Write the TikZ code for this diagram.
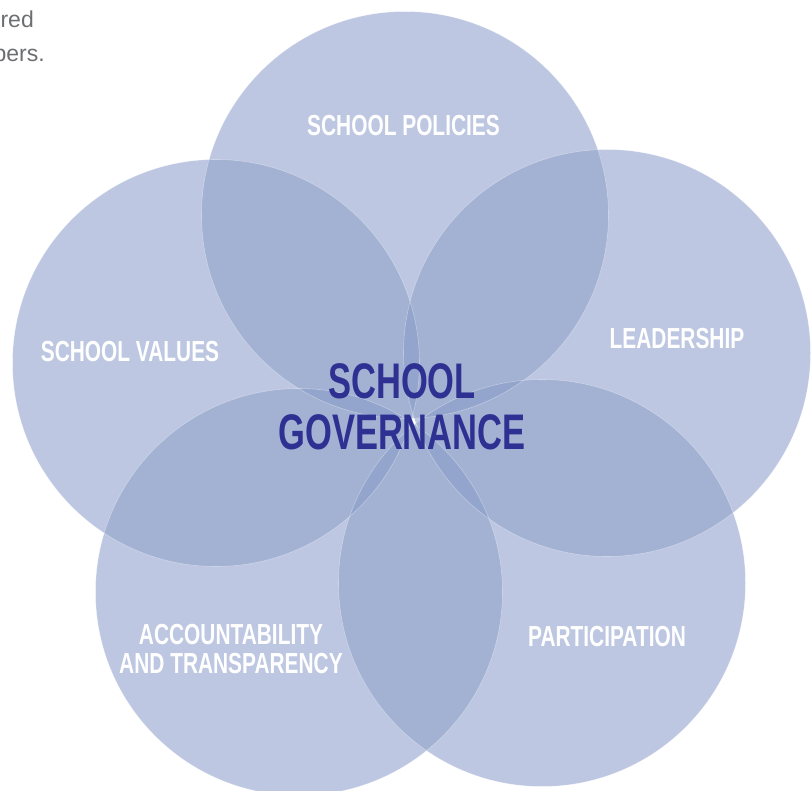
\documentclass[tikz,border=0pt]{standalone}
\usepackage{fontspec}
\setmainfont{Liberation Sans}
\newfontfamily\lblfont[FakeStretch=0.72]{Liberation Sans}
\newfontfamily\ttlfont[FakeStretch=0.69]{Liberation Sans}
\usetikzlibrary{positioning}
\definecolor{one}{HTML}{BDC7E1}
\definecolor{two}{HTML}{A3B1D3}
\definecolor{three}{HTML}{93A5CC}
\definecolor{navy}{HTML}{2E3192}
\definecolor{note}{HTML}{6D6E71}
\newcommand{\ring}[1]{(#1) circle (203.5)}
\tikzset{
  lbl/.style={white, inner sep=0, align=center, font=\lblfont\bfseries\fontsize{29}{29}\selectfont},
  notetext/.style={note, inner sep=0, anchor=base east, font=\fontsize{23}{23}\selectfont}
}

\begin{document}
\begin{tikzpicture}[x=1pt,y=-1pt]
\useasboundingbox (0,0) rectangle (811,791);
\clip (0,0) rectangle (811,791);
% centres
\coordinate (pol) at (405,215);
\coordinate (val) at (216,363);
\coordinate (lea) at (607,353);
\coordinate (acc) at (299,592);
\coordinate (par) at (542,583);
% single circles
\foreach \c in {pol,val,lea,acc,par} \fill[one] \ring{\c};
% two circles
\foreach \a/\b in {pol/val,pol/lea,pol/acc,pol/par,val/lea,val/acc,val/par,lea/acc,lea/par,acc/par}{
  \begin{scope}
    \clip \ring{\a};
    \fill[two] \ring{\b};
  \end{scope}
}
% three circles
\foreach \a/\b/\c in {pol/val/lea,pol/val/acc,pol/val/par,pol/lea/acc,pol/lea/par,pol/acc/par,val/lea/acc,val/lea/par,val/acc/par,lea/acc/par}{
  \begin{scope}
    \clip \ring{\a};
    \clip \ring{\b};
    \fill[three] \ring{\c};
  \end{scope}
}
% edges
\foreach \c in {pol,val,lea,acc,par} \draw[white, opacity=.35, line width=.6pt] \ring{\c};
% labels
\node[lbl, anchor=base] (policies) at (403.5,136) {SCHOOL POLICIES};
\node[lbl, anchor=base] (values) at (130,362) {SCHOOL VALUES};
\node[lbl, anchor=base] (leadership) at (677,349) {LEADERSHIP};
\node[lbl, anchor=north] (accountability) at (231,624) {ACCOUNTABILITY\\AND TRANSPARENCY};
\node[lbl, anchor=base] (participation) at (607,646) {PARTICIPATION};
\node[navy, inner sep=0, anchor=north, align=center, font=\ttlfont\bfseries\fontsize{50}{51}\selectfont] (governance) at (402,363) {SCHOOL\\GOVERNANCE};
% cut text at the top left
\node[notetext] (notea) at (34,28) {red};
\node[notetext] (noteb) at (45,62) {bers.};
\end{tikzpicture}
\end{document}
